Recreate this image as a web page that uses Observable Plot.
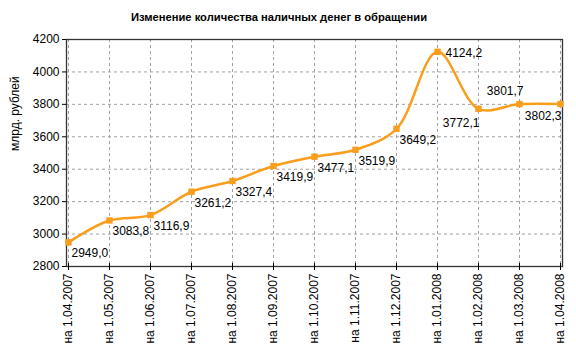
<!DOCTYPE html>
<html>
<head>
<meta charset="utf-8">
<script src="https://cdn.jsdelivr.net/npm/d3@7"></script>
<script src="https://cdn.jsdelivr.net/npm/@observablehq/plot@0.6"></script>
<style>
  html, body { margin: 0; padding: 0; background: #fff; }
  #wrap { width: 576px; height: 354px; position: relative; overflow: hidden; }
  #title { height: 28px; font: bold 11.2px "Liberation Sans", Arial, sans-serif; line-height: 34px; color: #000; text-align: center; padding-right: 18px; white-space: nowrap; }
  svg { display: block; }
</style>
</head>
<body>
<div id="wrap">
  <div id="title">Изменение количества наличных денег в обращении</div>
  <div id="chart"></div>
</div>
<script>
const dates = ["на 1.04.2007", "на 1.05.2007", "на 1.06.2007", "на 1.07.2007", "на 1.08.2007", "на 1.09.2007", "на 1.10.2007", "на 1.11.2007", "на 1.12.2007", "на 1.01.2008", "на 1.02.2008", "на 1.03.2008", "на 1.04.2008"];
const values = [2949.0, 3083.8, 3116.9, 3261.2, 3327.4, 3419.9, 3477.1, 3519.9, 3649.2, 4124.2, 3772.1, 3801.7, 3802.3];
const yTicks = [2800, 3000, 3200, 3400, 3600, 3800, 4000, 4200];
const yLabel = "млрд. рублей";

const data = dates.map((d, i) => ({date: d, value: values[i], i}));
const fmt = v => v.toFixed(1).replace(".", ",");

// label placement per point (style only)
const place = i => {
  if (i === 9) return {anchor: "start", dx: 8, dy: 1};
  if (i === 10) return {anchor: "end", dx: 1, dy: 14};
  if (i === 11) return {anchor: "end", dx: 4, dy: -13};
  if (i === 12) return {anchor: "end", dx: 1, dy: 12};
  return {anchor: "start", dx: 3, dy: 11};
};
const groups = {};
data.forEach(d => {
  const p = place(d.i);
  const k = p.anchor + "|" + p.dx + "|" + p.dy;
  (groups[k] = groups[k] || {p, rows: []}).rows.push(d);
});
const labelMarks = Object.values(groups).map(g => Plot.text(g.rows, {
  x: "date", y: "value", text: d => fmt(d.value),
  textAnchor: g.p.anchor, dx: g.p.dx, dy: g.p.dy,
  fill: "#000", fontSize: 12
}));

const orange = "#f99d1c";
const chart = Plot.plot({
  width: 576,
  height: 326,
  marginTop: 11,
  marginBottom: 88,
  marginLeft: 66,
  marginRight: 14,
  style: {fontFamily: "'Liberation Sans', Arial, sans-serif", fontSize: "12px", color: "#000", background: "#fff"},
  x: {type: "point", domain: dates, padding: 0},
  y: {domain: [2800, 4200]},
  marks: [
    Plot.gridX({stroke: "#a0a0a0", strokeOpacity: 1, strokeDasharray: "3,3"}),
    Plot.gridY(yTicks, {stroke: "#a0a0a0", strokeOpacity: 1, strokeDasharray: "3,3"}),
    Plot.frame({stroke: "#333", strokeWidth: 1.3}),
    Plot.axisX({tickRotate: -90, tickSize: 4, tickPadding: 3, label: null, fontSize: 12, stroke: "#000"}),
    Plot.axisX({tickSize: -3, text: null, label: null, stroke: "#000"}),
    Plot.axisY(yTicks, {tickSize: 4, tickPadding: 3, label: null, fontSize: 12, stroke: "#000", tickFormat: d => String(d)}),
    Plot.text([yLabel], {frameAnchor: "left", dx: -51, dy: -2, rotate: -90, fontSize: 12, fill: "#000"}),
    Plot.line(data, {x: "date", y: "value", stroke: orange, strokeWidth: 2.5, curve: "catmull-rom"}),
    Plot.dot(data, {x: "date", y: "value", symbol: "square", r: 3.6, fill: orange, stroke: "none"}),
    ...labelMarks
  ]
});
document.getElementById("chart").appendChild(chart);
</script>
</body>
</html>
